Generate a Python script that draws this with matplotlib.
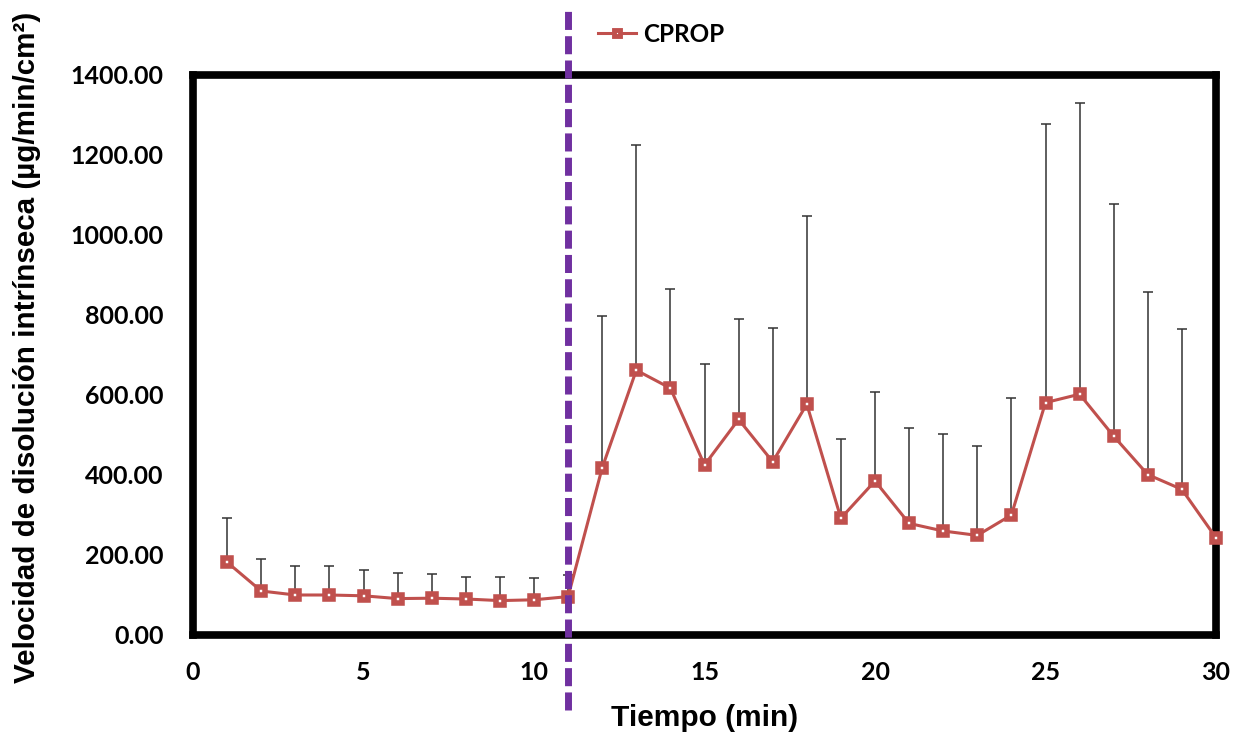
import matplotlib
matplotlib.use("Agg")
import matplotlib.pyplot as plt
import numpy as np

# Intrinsic dissolution rate over time (mean and upper standard deviation)
tiempo = list(range(1, 31))
velocidad = [182, 110, 100, 100, 98, 91, 92, 90, 86, 88, 96,
             418, 662, 617, 425, 539, 433, 577, 292, 385, 279,
             260, 249, 300, 581, 602, 497, 401, 364, 243]
desviacion = [110, 81, 73, 73, 65, 64, 60, 56, 60, 54, 54,
              379, 562, 247, 252, 252, 334, 470, 198, 223, 238,
              242, 223, 293, 697, 728, 580, 457, 400, 0]
serie = "CPROP"
cambio_medio = 11

x_ticks = [0, 5, 10, 15, 20, 25, 30]
y_ticks = [0, 200, 400, 600, 800, 1000, 1200, 1400]

W, H = 1242, 736
fig = plt.figure(figsize=(W / 100, H / 100), dpi=100)
ax = fig.add_axes([193 / W, 1 - 635 / H, (1216 - 193) / W, (635 - 75) / H])

rojo = "#C0504D"
y = np.array(velocidad, dtype=float)
sd = np.array(desviacion, dtype=float)

ax.errorbar(tiempo, y, yerr=[np.zeros_like(sd), sd], fmt="none",
            ecolor="#333333", elinewidth=1.1, capsize=3.6, capthick=1.1,
            zorder=3)
ax.plot(tiempo, y, color=rojo, lw=2.2, marker="s", markersize=5.4,
        markerfacecolor="white", markeredgecolor=rojo, markeredgewidth=4.0,
        label=serie, zorder=5, clip_on=False)

# vertical marker for the change of medium
ax.axvline(cambio_medio, ymin=(635 - 710) / 560, ymax=(635 - 10) / 560,
           color="#7030A0", lw=5, linestyle=(0, (2.6, 0.9)),
           clip_on=False, zorder=6)

ax.set_xlim(0, 30)
ax.set_ylim(0, 1400)
ax.set_xticks(x_ticks)
ax.set_yticks(y_ticks)
ax.set_yticklabels([f"{v:.2f}" for v in y_ticks])
ax.tick_params(length=0, labelsize=18)
ax.tick_params(axis="y", pad=21)
ax.tick_params(axis="x", pad=19)
for lab in ax.get_xticklabels() + ax.get_yticklabels():
    lab.set_fontfamily("Lato")
    lab.set_fontweight("bold")

for sp in ax.spines.values():
    sp.set_linewidth(5.5)
    sp.set_color("black")
    sp.set_zorder(2)

fig.text(705 / W, 1 - 718 / H, "Tiempo (min)", ha="center", va="center",
         fontsize=21.5, fontweight="bold", family="Liberation Sans")
fig.text(27 / W, 1 - 347 / H,
         "Velocidad de disolución intrínseca (µg/min/cm²)",
         ha="center", va="center", rotation=90, fontsize=21.3,
         fontweight="bold", family="Liberation Sans")

leg = fig.legend(loc="center left", bbox_to_anchor=(598 / W, 1 - 34 / H),
                 frameon=False, handlelength=1.55, handletextpad=0.3,
                 borderpad=0, borderaxespad=0,
                 prop={"family": "Lato", "weight": "bold", "size": 17.5})
for h in leg.legend_handles:
    h.set_markersize(4.5)
    h.set_markeredgewidth(3.5)

fig.savefig("out.png", dpi=100, facecolor="white")
